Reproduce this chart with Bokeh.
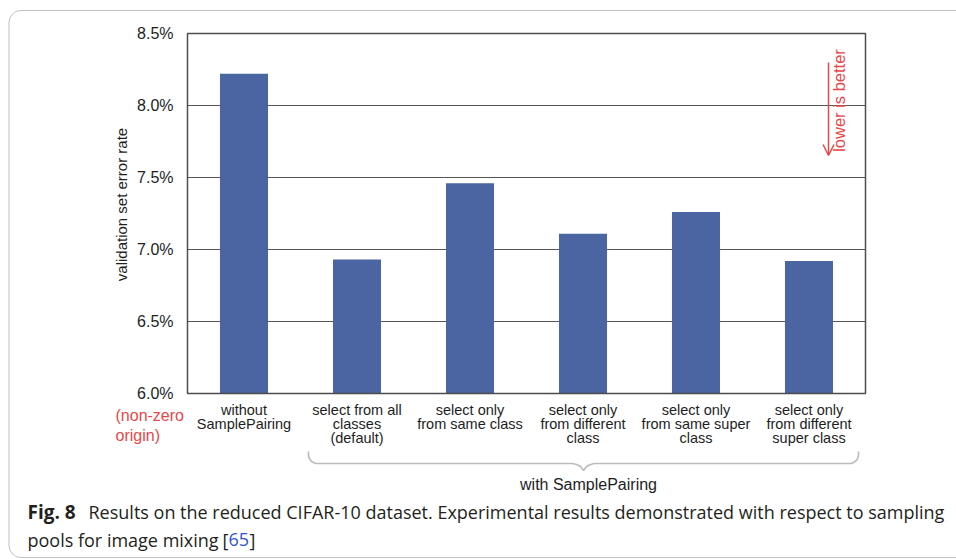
import math
from bokeh.plotting import figure
from bokeh.models import (Range1d, Label, BoxAnnotation, PolyAnnotation, Arrow, OpenHead)
from bokeh.embed import file_html
from bokeh.resources import INLINE

# ---------------- data ----------------
categories = [
    "without\nSamplePairing",
    "select from all\nclasses\n(default)",
    "select only\nfrom same class",
    "select only\nfrom different\nclass",
    "select only\nfrom same super\nclass",
    "select only\nfrom different\nsuper class",
]
error_rates = [8.22, 6.93, 7.46, 7.11, 7.26, 6.92]
y_ticks = [6.0, 6.5, 7.0, 7.5, 8.0, 8.5]
y_tick_labels = ["6.0%", "6.5%", "7.0%", "7.5%", "8.0%", "8.5%"]
y_label = "validation set error rate"
origin_note = ["(non-zero", "origin)"]
group_label = "with SamplePairing"
hint_label = "lower is better"
caption_bold = "Fig. 8"
caption_line1 = "Results on the reduced CIFAR-10 dataset. Experimental results demonstrated with respect to sampling"
caption_line2 = "pools for image mixing"
caption_ref = "65"

# ---------------- styles / layout ----------------
BAR = "#4a65a2"
RED = "#e8474a"
INK = "#1e1e1e"
BLUE = "#2f52d8"
FONT = "Liberation Sans"
CAP_FONT = "Open Sans"

W, H = 956, 559
# plot area (pixels from the top-left of the canvas)
PL, PR, PT, PB = 187, 865, 33, 393
n = len(categories)
ppx = (PR - PL) / n                                  # px per category
ppy = (PB - PT) / (y_ticks[-1] - y_ticks[0])         # px per percent

x_range = Range1d(-PL / ppx, n + (W - PR) / ppx)
y_range = Range1d(y_ticks[0] - (H - PB) / ppy, y_ticks[-1] + PT / ppy)

def sx(px):
    return px

def sy(py):
    return H - py

xs = [i + 0.5 for i in range(n)]

p = figure(width=W, height=H, output_backend="svg", toolbar_location=None,
           x_range=x_range, y_range=y_range, min_border=0,
           x_axis_location=None, y_axis_location=None)
p.background_fill_color = "white"
p.border_fill_color = "white"
p.outline_line_color = None
p.grid.grid_line_color = None

# horizontal grid lines inside the plot area
p.segment(x0=[0] * len(y_ticks), x1=[n] * len(y_ticks), y0=y_ticks, y1=y_ticks,
          line_color="#555555", line_width=1)

# bars
p.vbar(x=xs, top=error_rates, bottom=y_ticks[0], width=0.425, fill_color=BAR, line_color=None)

# plot-area frame
p.quad(left=[0], right=[n], bottom=[y_ticks[0]], top=[y_ticks[-1]],
       fill_color=None, line_color="#4d4d4d", line_width=1.5)

# y tick labels
p.text(x=[0] * len(y_ticks), y=y_ticks, text=y_tick_labels, x_offset=-14,
       text_align="right", text_baseline="middle", text_font={"value": FONT},
       text_font_size="16px", text_color=INK)

# y axis title
p.add_layout(Label(x=sx(121), y=sy(204), x_units="screen", y_units="screen",
                   text=y_label, angle=math.pi / 2, text_align="center",
                   text_baseline="middle", text_font=FONT, text_font_size="15px",
                   text_color=INK))

# category labels
p.text(x=xs, y=[y_ticks[0]] * n, text=categories, y_offset=8,
       text_align="center", text_baseline="top", text_font={"value": FONT},
       text_font_size="14.5px", text_color=INK, text_line_height=0.88)

# outer rounded box
p.add_layout(BoxAnnotation(left=sx(8.5), right=sx(1000), top=sy(10), bottom=sy(557),
                           left_units="screen", right_units="screen",
                           top_units="screen", bottom_units="screen",
                           fill_alpha=0, line_color="#333333", line_width=1,
                           border_radius=12))

# non-zero origin note
for i, t in enumerate(origin_note):
    p.add_layout(Label(x=sx(115), y=sy(415 + 20 * i), x_units="screen", y_units="screen",
                       text=t, text_align="left", text_baseline="middle", text_font=FONT,
                       text_font_size="16px", text_color=RED))

# brace under grouped categories
def arc(cx, cy, r, a0, a1, k=8):
    return [(cx + r * math.cos(a0 + (a1 - a0) * j / k), cy + r * math.sin(a0 + (a1 - a0) * j / k))
            for j in range(k + 1)]

xl, xr, xm, yb, yt, r = 308, 858, 583, 463, 451, 9
pts = [(xl, yt)]
pts += arc(xl + r, yb - r, r, math.pi, math.pi / 2)
pts += [(xm - 11, yb), (xm - 7, yb + 1), (xm - 3, yb + 3), (xm, yb + 7),
        (xm + 3, yb + 3), (xm + 7, yb + 1), (xm + 11, yb)]
pts += arc(xr - r, yb - r, r, math.pi / 2, 0)
pts += [(xr, yt)]
path = pts + pts[::-1]
p.add_layout(PolyAnnotation(xs=[sx(a) for a, b in path], ys=[sy(b) for a, b in path],
                            xs_units="screen", ys_units="screen",
                            fill_alpha=0, line_color="#222222", line_width=1.7))
p.add_layout(Label(x=sx(588), y=sy(484), x_units="screen", y_units="screen",
                   text=group_label, text_align="center", text_baseline="middle",
                   text_font=FONT, text_font_size="16px", text_color=INK))

# lower is better arrow
p.add_layout(Arrow(end=OpenHead(size=11, line_color=RED, line_width=1.5),
                   x_start=sx(828), y_start=sy(62), x_end=sx(828), y_end=sy(155),
                   start_units="screen", end_units="screen",
                   line_color=RED, line_width=1.5))
p.add_layout(Label(x=sx(838), y=sy(100), x_units="screen", y_units="screen",
                   text=hint_label, angle=math.pi / 2, text_align="center",
                   text_baseline="middle", text_font=FONT, text_font_size="16.5px",
                   text_color=RED))

# caption
CAP = dict(x_units="screen", y_units="screen", text_baseline="alphabetic",
           text_font=CAP_FONT, text_font_size="18px", text_color="#231f20")
Y1, Y2 = 511, 539
p.add_layout(Label(x=sx(27), y=sy(Y1), text=caption_bold, text_font_style="bold",
                   **{**CAP, "text_font_size": "19px"}))
p.add_layout(Label(x=sx(88), y=sy(Y1), text=caption_line1, **CAP))
p.add_layout(Label(x=sx(27), y=sy(Y2), text=caption_line2, **CAP))
p.add_layout(Label(x=sx(222), y=sy(Y2), text="[", **CAP))
p.add_layout(Label(x=sx(228), y=sy(Y2), text=caption_ref, **{**CAP, "text_color": BLUE}))
p.add_layout(Label(x=sx(249), y=sy(Y2), text="]", **CAP))

open("out.html", "w").write(file_html(p, INLINE))
